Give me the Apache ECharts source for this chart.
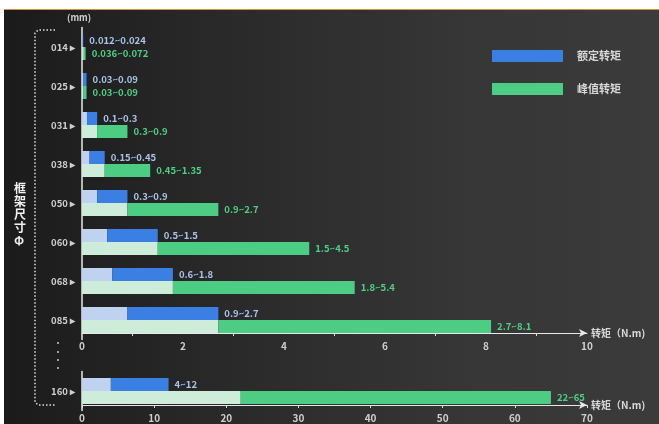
<!DOCTYPE html>
<html>
<head>
<meta charset="utf-8">
<script src="https://cdn.jsdelivr.net/npm/echarts@6/dist/echarts.min.js"></script>
<style>
  html, body { margin: 0; padding: 0; background: #fff; }
  #bg {
    position: absolute; left: 4px; top: 9px; width: 655px; height: 415px;
    border-top: 1px solid #d9913a;
    background: linear-gradient(to right, #1b1b1b 0%, #2a2a2a 35%, #363636 70%, #3b3b3b 100%);
  }
  #main { position: absolute; left: 0; top: 0; width: 659px; height: 424px; }
</style>
</head>
<body>
<div id="bg"></div>
<div id="main"></div>
<script>
// 框架尺寸 (mm)
var sizes = ['014', '025', '031', '038', '050', '060', '068', '085'];
// 额定转矩 / 峰值转矩 范围 (N.m)
var ratedLo = [0.012, 0.03, 0.1, 0.15, 0.3, 0.5, 0.6, 0.9];
var ratedHi = [0.024, 0.09, 0.3, 0.45, 0.9, 1.5, 1.8, 2.7];
var peakLo = [0.036, 0.03, 0.3, 0.45, 0.9, 1.5, 1.8, 2.7];
var peakHi = [0.072, 0.09, 0.9, 1.35, 2.7, 4.5, 5.4, 8.1];
// 160 单独一行，刻度 0-70
var bigSizes = ['160'];
var bigRatedLo = [4];
var bigRatedHi = [12];
var bigPeakLo = [22];
var bigPeakHi = [65];

var blue = '#3b7fe2', blueLight = '#bfd2ef';
var green = '#4dcd83', greenLight = '#cdecda';
var font = '"Noto Sans CJK SC", Inter, sans-serif';

function diff(hi, lo) {
    var out = [];
    for (var i = 0; i < hi.length; i++) out.push(+(hi[i] - lo[i]).toFixed(4));
    return out;
}

function barSeries(gi, lo, hi, plo, phi) {
    return [
        { name: 'rb' + gi, type: 'bar', stack: 'r' + gi, xAxisIndex: gi, yAxisIndex: gi,
          barWidth: 13, barGap: '0%', silent: true, itemStyle: { color: blueLight }, data: lo },
        { name: '额定转矩', type: 'bar', stack: 'r' + gi, xAxisIndex: gi, yAxisIndex: gi,
          barWidth: 13, barGap: '0%', itemStyle: { color: blue }, data: diff(hi, lo),
          label: { show: true, position: 'right', distance: 6, color: '#a9c3ea', fontSize: 9.5,
                   fontWeight: 'bold', fontFamily: font,
                   formatter: function (p) { return lo[p.dataIndex] + '~' + hi[p.dataIndex]; } } },
        { name: 'pb' + gi, type: 'bar', stack: 'p' + gi, xAxisIndex: gi, yAxisIndex: gi,
          barWidth: 13, barGap: '0%', silent: true, itemStyle: { color: greenLight }, data: plo },
        { name: '峰值转矩', type: 'bar', stack: 'p' + gi, xAxisIndex: gi, yAxisIndex: gi,
          barWidth: 13, barGap: '0%', itemStyle: { color: green }, data: diff(phi, plo),
          label: { show: true, position: 'right', distance: 6, color: '#4fcf85', fontSize: 9.5,
                   fontWeight: 'bold', fontFamily: font,
                   formatter: function (p) { return plo[p.dataIndex] + '~' + phi[p.dataIndex]; } } }
    ];
}

function yAxis(gi, cats) {
    return {
        type: 'category', gridIndex: gi, data: cats, inverse: true,
        axisLine: { show: true, lineStyle: { color: '#e8e8e8', width: 1.5 } },
        axisTick: { show: false },
        axisLabel: { color: '#cfcfcf', fontSize: 9.5, fontWeight: 'bold', fontFamily: font, margin: 7,
                     formatter: '{value} ▸' }
    };
}

function xAxis(gi, max, interval, offset, minor) {
    return {
        type: 'value', gridIndex: gi, min: 0, max: max, interval: interval, offset: offset,
        name: '转矩（N.m)', nameGap: 4,
        nameTextStyle: { color: '#d8d8d8', fontSize: 10, fontWeight: 'bold', fontFamily: font },
        axisLine: { show: true, symbol: ['none', 'arrow'], symbolSize: [6, 8],
                    lineStyle: { color: '#e8e8e8', width: 1 } },
        axisTick: { show: !minor, length: 3, lineStyle: { color: '#ddd' } },
        minorTick: { show: minor, splitNumber: 2, length: 3, lineStyle: { color: '#ddd' } },
        splitLine: { show: false },
        axisLabel: { color: '#cfcfcf', fontSize: 10, fontWeight: 'bold', fontFamily: font, margin: 8 }
    };
}

var myChart = echarts.init(document.getElementById('main'));
var option = {
    backgroundColor: 'transparent',
    animation: false,
    legend: {
        data: ['额定转矩', '峰值转矩'],
        orient: 'vertical', left: 487, top: 45,
        itemWidth: 71, itemHeight: 12, itemGap: 21, icon: 'rect',
        textStyle: { color: '#d8d8d8', fontSize: 11, fontWeight: 'bold', fontFamily: font, padding: [0, 0, 0, 9] }
    },
    grid: [
        { left: 82, right: 72, top: 27.5, bottom: 84.5 },
        { left: 82, right: 72, top: 371.5, bottom: 13.5 }
    ],
    xAxis: [xAxis(0, 10, 2, -6.5, true), xAxis(1, 70, 10, -5.5, false)],
    yAxis: [yAxis(0, sizes), yAxis(1, bigSizes)],
    series: barSeries(0, ratedLo, ratedHi, peakLo, peakHi)
        .concat(barSeries(1, bigRatedLo, bigRatedHi, bigPeakLo, bigPeakHi)),
    graphic: [
        { type: 'text', left: 67, top: 13,
          style: { text: '(mm)', fill: '#cfcfcf', font: 'bold 9px ' + font } },
        { type: 'text', left: 14, top: 182,
          style: { text: '框\n架\n尺\n寸\nΦ', fill: '#f0f0f0', font: 'bold 12px ' + font, lineHeight: 13 } },
        { type: 'polyline', silent: true,
          shape: { points: [[55, 30], [38, 30], [35, 33], [35, 402], [38, 405], [55, 405]] },
          style: { fill: null, stroke: '#e0e0e0', lineWidth: 1.5, lineDash: [1.5, 2] } },
        { type: 'circle', shape: { cx: 58, cy: 343, r: 0.9 }, style: { fill: '#ddd' } },
        { type: 'circle', shape: { cx: 58, cy: 352, r: 0.9 }, style: { fill: '#ddd' } },
        { type: 'circle', shape: { cx: 58, cy: 360, r: 0.9 }, style: { fill: '#ddd' } },
        { type: 'circle', shape: { cx: 58, cy: 368, r: 0.9 }, style: { fill: '#ddd' } }
    ]
};
myChart.setOption(option);
</script>
</body>
</html>
